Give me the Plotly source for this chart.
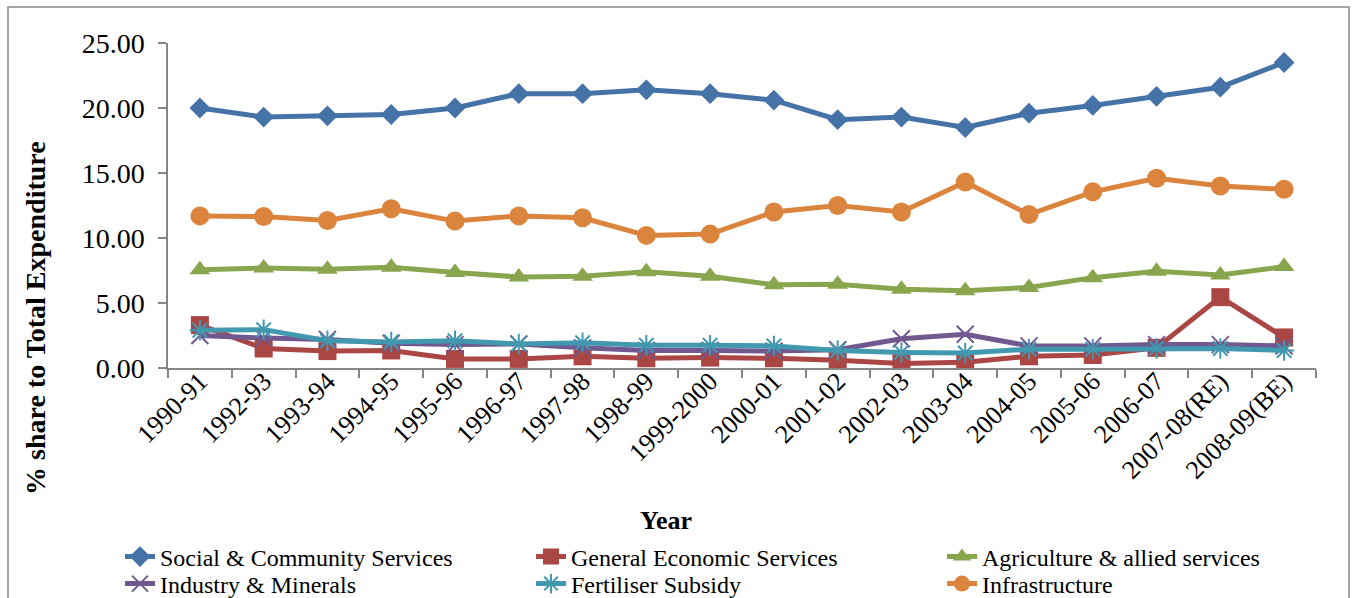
import plotly.graph_objects as go

years = ["1990-91", "1992-93", "1993-94", "1994-95", "1995-96", "1996-97", "1997-98",
         "1998-99", "1999-2000", "2000-01", "2001-02", "2002-03", "2003-04", "2004-05",
         "2005-06", "2006-07", "2007-08(RE)", "2008-09(BE)"]

social = [20.0, 19.3, 19.4, 19.5, 20.0, 21.1, 21.1, 21.4, 21.1, 20.6, 19.1, 19.3, 18.5, 19.6, 20.2, 20.9, 21.6, 23.5]
general_econ = [3.3, 1.5, 1.3, 1.35, 0.7, 0.7, 0.9, 0.75, 0.8, 0.75, 0.6, 0.35, 0.45, 0.9, 1.0, 1.55, 5.45, 2.35]
agriculture = [7.55, 7.7, 7.6, 7.75, 7.35, 7.0, 7.05, 7.4, 7.05, 6.4, 6.45, 6.05, 5.95, 6.2, 6.95, 7.45, 7.15, 7.8]
industry = [2.5, 2.3, 2.2, 1.9, 1.8, 1.85, 1.55, 1.35, 1.35, 1.3, 1.4, 2.25, 2.6, 1.7, 1.7, 1.8, 1.8, 1.7]
fertiliser = [2.9, 2.95, 2.1, 2.0, 2.1, 1.85, 1.95, 1.75, 1.75, 1.7, 1.35, 1.2, 1.15, 1.45, 1.45, 1.5, 1.5, 1.35]
infrastructure = [11.7, 11.65, 11.35, 12.25, 11.3, 11.7, 11.55, 10.2, 10.3, 12.0, 12.5, 12.0, 14.3, 11.8, 13.55, 14.6, 14.0, 13.75]

# (name, values, colour, symbol, size, legend row)
series = [
    ("Social & Community Services", social, "#4572A7", "diamond", 16, "legend"),
    ("General Economic Services", general_econ, "#AA4643", "square", 18, "legend"),
    ("Agriculture & allied services", agriculture, "#89A54E", "triangle-up", 18, "legend"),
    ("Industry & Minerals", industry, "#71588F", "x-thin-open", 17, "legend2"),
    ("Fertiliser Subsidy", fertiliser, "#4198AF", "asterisk-open", 17, "legend2"),
    ("Infrastructure", infrastructure, "#DB843D", "circle", 19, "legend2"),
]

serif = "Liberation Serif, DejaVu Serif, serif"

fig = go.Figure()
for name, vals, color, sym, size, leg in series:
    open_sym = sym.endswith("open")
    fig.add_trace(go.Scatter(
        x=years, y=vals, name=name, mode="lines+markers", legend=leg,
        line=dict(color=color, width=5),
        marker=dict(symbol=sym, size=size, color=color,
                    line=dict(color=color, width=2 if open_sym else 0)),
    ))

W, H = 1353, 598
L, R, T, B = 168, 37, 43, 230
pw, ph = W - L - R, H - T - B

def px(xp):
    return (xp - L) / pw

def py(yp):
    return (H - B - yp) / ph

leg_common = dict(
    orientation="h", xanchor="left", yanchor="middle",
    entrywidth=366, entrywidthmode="pixels",
    font=dict(family=serif, size=24, color="black"),
    bgcolor="rgba(0,0,0,0)", borderwidth=0,
)

fig.update_layout(
    width=W, height=H,
    margin=dict(l=L, r=R, t=T, b=B, autoexpand=False),
    paper_bgcolor="white", plot_bgcolor="white",
    font=dict(family=serif, color="black"),
    showlegend=True,
    legend=dict(x=px(120), y=py(557), **leg_common),
    legend2=dict(x=px(120), y=py(584), **leg_common),
    xaxis=dict(
        type="category", showline=True, linecolor="#868686", linewidth=1.5,
        ticks="outside", tickson="boundaries", ticklen=8, tickcolor="#868686",
        tickwidth=1.5, tickangle=-45, showgrid=False, zeroline=False,
        tickfont=dict(family=serif, size=26, color="black"),
        ticklabelstandoff=-14,
        range=[-0.5, len(years) - 0.5], automargin=False,
    ),
    yaxis=dict(
        range=[0, 25], dtick=5, tickformat=".2f", showline=True,
        linecolor="#868686", linewidth=1.5, ticks="outside", ticklen=8,
        tickcolor="#868686", tickwidth=1.5, showgrid=False, zeroline=False,
        tickfont=dict(family=serif, size=28, color="black"), automargin=False,
        ticklabelstandoff=8,
    ),
    annotations=[
        dict(text="<b>Year</b>", xref="paper", yref="paper", x=px(666), y=py(520),
             showarrow=False, font=dict(family=serif, size=26, color="black"),
             xanchor="center", yanchor="middle"),
        dict(text="<b>% share to Total Expenditure</b>", xref="paper", yref="paper",
             x=px(35), y=py(318), textangle=-90, showarrow=False,
             font=dict(family=serif, size=28, color="black"),
             xanchor="center", yanchor="middle"),
    ],
    shapes=[
        dict(type="rect", xref="paper", yref="paper", x0=px(8), x1=px(1349),
             y0=py(640), y1=py(7), line=dict(color="#888888", width=1.5),
             fillcolor="rgba(0,0,0,0)", layer="below"),
    ],
)

fig.write_html("out.html", config={"displayModeBar": False},
               post_script="document.body.style.margin='0';")
